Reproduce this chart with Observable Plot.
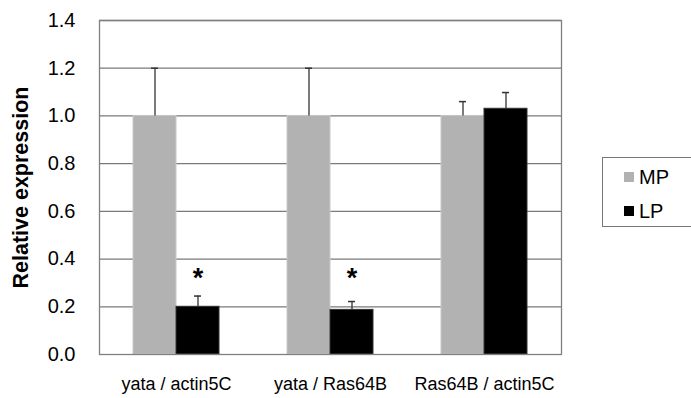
<!DOCTYPE html>
<html>
<head>
<meta charset="utf-8">
<script src="https://cdn.jsdelivr.net/npm/d3@7"></script>
<script src="https://cdn.jsdelivr.net/npm/@observablehq/plot@0.6"></script>
<style>
  html, body { margin: 0; padding: 0; background: #fff; }
  #wrap { position: relative; width: 691px; height: 398px; font-family: "Liberation Sans", Arial, sans-serif; }
  #legend { position: absolute; left: 602px; top: 157px; width: 100px; height: 70px;
            border: 1.5px solid #777; box-sizing: border-box; }
  .item { position: absolute; left: 21px; display: flex; align-items: center; font-size: 20px; line-height: 1; }
  .sw { width: 10px; height: 10px; margin-right: 5px; }
</style>
</head>
<body>
<div id="wrap"></div>
<script>
const categories = ["yata / actin5C", "yata / Ras64B", "Ras64B / actin5C"];
const series = ["MP", "LP"];
const seriesColors = ["#b2b2b2", "#000000"];
const mpValues = [1.0, 1.0, 1.0];
const mpErrorTop = [1.2, 1.2, 1.06];
const lpValues = [0.2, 0.187, 1.03];
const lpErrorTop = [0.245, 0.222, 1.098];
const starLevel = [0.32, 0.32, null];
const yTicks = [0, 0.2, 0.4, 0.6, 0.8, 1.0, 1.2, 1.4];

const rows = [];
categories.forEach((c, i) => {
  rows.push({category: c, series: "MP", value: mpValues[i], hi: mpErrorTop[i]});
  rows.push({category: c, series: "LP", value: lpValues[i], hi: lpErrorTop[i]});
});
const stars = categories.map((c, i) => ({category: c, series: "LP", y: starLevel[i]})).filter(d => d.y != null);

const chart = Plot.plot({
  width: 691,
  height: 398,
  marginLeft: 98,
  marginRight: 130,
  marginTop: 20,
  marginBottom: 44,
  style: {fontFamily: "'Liberation Sans', Arial, sans-serif", fontSize: "18px", color: "#000", background: "#fff"},
  fx: {domain: categories, padding: 0, label: null},
  x: {domain: series, paddingInner: 0, paddingOuter: 0.754, axis: null},
  y: {domain: [0, 1.4], label: null},
  color: {domain: series, range: seriesColors},
  marks: [
    Plot.ruleY(yTicks.filter(v => v > 0), {stroke: "#7a7a7a", strokeWidth: 1.3}),
    Plot.barY(rows, {fx: "category", x: "series", y: "value", fill: "series",
      stroke: d => d.series === "MP" ? "#c8c8c8" : "#333", strokeWidth: 1}),
    Plot.ruleX(rows, {fx: "category", x: "series", y1: "value", y2: "hi", stroke: "#333", strokeWidth: 1.3}),
    Plot.tickY(rows, {fx: "category", x: "series", y: "hi", stroke: "#333", strokeWidth: 1.5, insetLeft: 18, insetRight: 18}),
    Plot.text(stars, {fx: "category", x: "series", y: "y", text: () => "*", fontSize: 27, fontWeight: "bold"}),
    Plot.axisFx({anchor: "bottom", tickSize: 0, tickPadding: 23, fontSize: 18, label: null}),
    Plot.axisY({ticks: yTicks, tickFormat: d3.format(".1f"), tickSize: 0, tickPadding: 24, fontSize: 20, label: null}),
    Plot.axisY({ticks: [], label: "Relative expression", labelAnchor: "center", labelArrow: "none",
      labelOffset: 87, fontSize: 21.5, fontWeight: "bold"}),
    Plot.frame({facet: "super", stroke: "#808080", strokeWidth: 1.3})
  ]
});

const wrap = document.getElementById("wrap");
wrap.appendChild(chart);

const legend = document.createElement("div");
legend.id = "legend";
series.forEach((s, i) => {
  const item = document.createElement("div");
  item.className = "item";
  item.style.top = (i === 0 ? 9 : 43) + "px";
  const sw = document.createElement("span");
  sw.className = "sw";
  sw.style.background = seriesColors[i];
  const t = document.createElement("span");
  t.textContent = s;
  item.appendChild(sw);
  item.appendChild(t);
  legend.appendChild(item);
});
wrap.appendChild(legend);
</script>
</body>
</html>
